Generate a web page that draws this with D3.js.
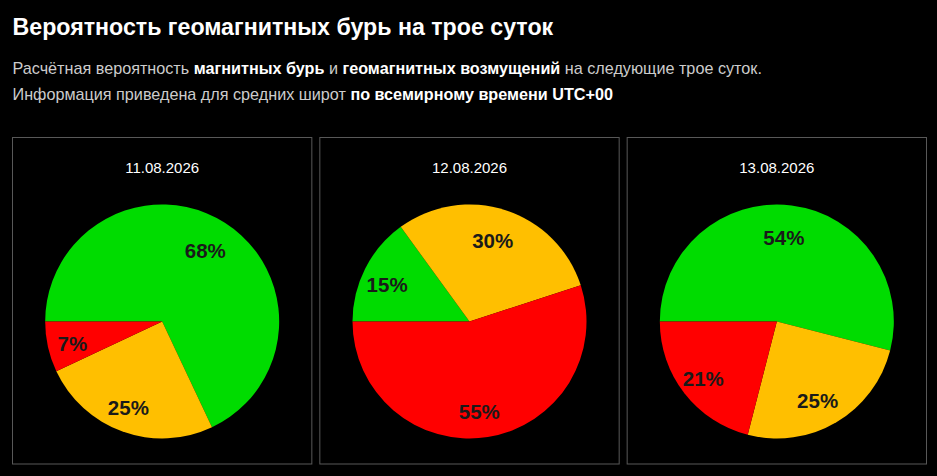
<!DOCTYPE html>
<html>
<head>
<meta charset="utf-8">
<script src="https://cdn.jsdelivr.net/npm/d3@7"></script>
<style>
  html, body { margin: 0; padding: 0; background: #000; }
  svg { display: block; }
  text { font-family: "Liberation Sans", Arial, sans-serif; }
</style>
</head>
<body>
<svg id="chart" width="937" height="476"></svg>
<script>
// ---- Data ----
const dates = ["11.08.2026", "12.08.2026", "13.08.2026"];
const categories = ["Нет бурь", "Возмущения", "Буря"];
const greenValues  = [68, 15, 54];
const yellowValues = [25, 30, 25];
const redValues    = [7, 55, 21];
const colors = ["#00dc00", "#ffbf00", "#ff0000"];

const titleText = "Вероятность геомагнитных бурь на трое суток";
const line1 = [["Расчётная вероятность ", false], ["магнитных бурь", true], [" и ", false], ["геомагнитных возмущений", true], [" на следующие трое суток.", false]];
const line2 = [["Информация приведена для средних широт ", false], ["по всемирному времени UTC+00", true]];

// ---- Drawing ----
const svg = d3.select("#chart");
svg.append("rect").attr("width", 937).attr("height", 476).attr("fill", "#000");

svg.append("text")
  .attr("x", 12.5).attr("y", 35)
  .attr("fill", "#fff")
  .attr("font-size", 23.2).attr("font-weight", "bold")
  .text(titleText);

function richLine(parts, y) {
  const t = svg.append("text").attr("x", 12.5).attr("y", y).attr("font-size", 16.2);
  parts.forEach(([s, b]) => {
    t.append("tspan")
      .attr("fill", b ? "#fff" : "#cccccc")
      .attr("font-weight", b ? "bold" : "normal")
      .text(s);
  });
}
richLine(line1, 74);
richLine(line2, 100);

const panelX = d3.scaleBand().domain(dates).range([12.5, 926.5]).paddingInner(0.026);
const panelY = 137.5, panelH = 326.5;
const radius = 117;
const labelR = 88;

const pie = d3.pie().sort(null).startAngle(-Math.PI / 2).endAngle(3 * Math.PI / 2);
const arc = d3.arc().innerRadius(0).outerRadius(radius);
const labelArc = d3.arc().innerRadius(labelR).outerRadius(labelR);

dates.forEach((d, i) => {
  const x0 = panelX(d), w = panelX.bandwidth();
  const g = svg.append("g");
  g.append("rect")
    .attr("x", x0).attr("y", panelY)
    .attr("width", w).attr("height", panelH)
    .attr("fill", "none").attr("stroke", "#585858").attr("stroke-width", 1);
  const cx = x0 + w / 2;
  g.append("text")
    .attr("x", cx).attr("y", 172.7)
    .attr("text-anchor", "middle")
    .attr("fill", "#fff").attr("font-size", 15)
    .text(d);

  const vals = [greenValues[i], yellowValues[i], redValues[i]];
  const arcs = pie(vals);
  const pg = g.append("g").attr("transform", `translate(${cx},321.5)`);
  pg.selectAll("path").data(arcs).join("path")
    .attr("d", arc)
    .attr("fill", (a, k) => colors[k]);
  pg.selectAll("text").data(arcs).join("text")
    .attr("transform", a => {
      const [lx, ly] = labelArc.centroid(a);
      return `translate(${lx - 4},${ly + 3})`;
    })
    .attr("text-anchor", "middle")
    .attr("dominant-baseline", "central")
    .attr("font-size", 20.5).attr("font-weight", "bold")
    .attr("fill", "#1a1a1a")
    .text(a => a.data + "%");
});
</script>
</body>
</html>
